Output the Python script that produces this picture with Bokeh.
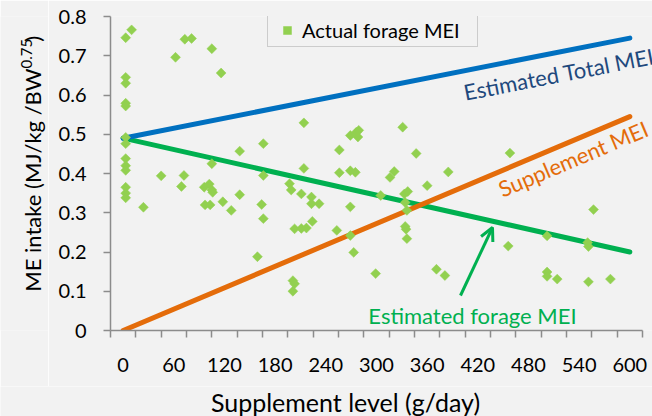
from bokeh.plotting import figure
from bokeh.layouts import row, column
from bokeh.models import (Label, Arrow, OpenHead, Legend, LegendItem,
                          FixedTicker, Range1d, ColumnDataSource)
from bokeh.core.properties import value
from bokeh.embed import file_html
from bokeh.resources import INLINE
import math

# ---------------- data ----------------
forage_x = [3, 3, 3, 3, 3, 3, 3, 3, 3, 3, 3, 3, 3,
            10, 24, 45, 62, 69, 72, 73, 81,
            96, 97, 102, 103, 105, 106, 105, 105,
            116, 118, 128, 138, 138,
            159, 164, 166, 166, 166,
            197, 199, 201, 203, 201, 203,
            211, 211, 214, 214, 217,
            223, 223, 224, 232,
            253, 256, 256,
            269, 276, 279, 278, 269, 275, 269, 269, 273,
            299, 305, 316, 321, 331,
            333, 337, 334, 336, 334, 335, 336,
            347, 360, 371, 381, 385,
            456, 458,
            502, 502, 502, 514,
            550, 551, 551, 557, 577]
forage_y = [0.746, 0.645, 0.63, 0.579, 0.572, 0.492, 0.476, 0.438, 0.42, 0.408, 0.365, 0.35, 0.338,
            0.766, 0.314, 0.394, 0.696, 0.367, 0.395, 0.742, 0.744,
            0.365, 0.32, 0.373, 0.32, 0.358, 0.352, 0.425, 0.718,
            0.656, 0.328, 0.306, 0.457, 0.346,
            0.188, 0.321, 0.476, 0.395, 0.285,
            0.374, 0.358, 0.127, 0.119, 0.1, 0.259,
            0.26, 0.348, 0.529, 0.413, 0.261,
            0.34, 0.323, 0.278, 0.323,
            0.255, 0.46, 0.402,
            0.497, 0.505, 0.51, 0.493, 0.407, 0.403, 0.315, 0.242, 0.199,
            0.145, 0.344, 0.39, 0.405, 0.518,
            0.348, 0.354, 0.326, 0.306, 0.265, 0.258, 0.234,
            0.451, 0.369, 0.156, 0.14, 0.404,
            0.215, 0.452,
            0.241, 0.149, 0.138, 0.131,
            0.224, 0.214, 0.124, 0.308, 0.131]

line_x = [0, 600]
total_mei = [0.49, 0.745]
estimated_forage_mei = [0.49, 0.20]
supplement_mei = [0.0, 0.545]

x_tick_values = [0, 60, 120, 180, 240, 300, 360, 420, 480, 540, 600]
x_minor_ticks = [-15, 15, 45, 75, 105, 135, 165, 195, 225, 255, 285, 315, 345,
                 375, 405, 435, 465, 495, 525, 555, 585, 615]
y_tick_values = [0, 0.1, 0.2, 0.3, 0.4, 0.5, 0.6, 0.7, 0.8]

x_title = "Supplement level (g/day)"
y_title_main = "ME intake (MJ/kg /BW"
y_title_sup = "0.75"
y_title_end = ")"

# ---------------- styling / layout ----------------
BG = "#F2F2F2"
FONT = "Lato"
AXIS_COL = "#8C8C8C"
BLUE = "#0070C0"
GREEN = "#00B050"
ORANGE = "#E46C0A"
POINT = "#92D050"

PAGE_W, PAGE_H = 652, 416
YT_W = 48            # width of the strip holding the y title
XT_H = 30            # height of the strip holding the x title
MAIN_W = PAGE_W - YT_W
MAIN_H = PAGE_H - XT_H

X0, X1 = -15, 615                    # extent of the drawn x axis
Y0, Y1 = 0, 0.8
FL, FR, FT, FB = 110, 642, 16, 330   # axis extent in page pixels
PX_PER_X = (FR - FL) / (X1 - X0)
X1_VIEW = X1 + (PAGE_W - FR) / PX_PER_X   # frame runs to the page edge


def xd(px):
    return X0 + (px - FL) / PX_PER_X


def yd(py):
    return Y0 + (FB - py) * (Y1 - Y0) / (FB - FT)


def strip(w, h):
    f = figure(width=w, height=h, output_backend="svg", toolbar_location=None,
               x_range=Range1d(0, w), y_range=Range1d(0, h),
               x_axis_type=None, y_axis_type=None,
               min_border=0, min_border_left=0, min_border_right=0,
               min_border_top=0, min_border_bottom=0)
    f.background_fill_color = BG
    f.border_fill_color = BG
    f.outline_line_color = None
    f.xgrid.visible = False
    f.ygrid.visible = False
    return f


p = figure(width=MAIN_W, height=MAIN_H, output_backend="svg", toolbar_location=None,
           x_range=Range1d(X0, X1_VIEW), y_range=Range1d(Y0, Y1),
           min_border_left=FL - YT_W, min_border_right=0,
           min_border_top=FT, min_border_bottom=MAIN_H - FB)
p.background_fill_color = BG
p.border_fill_color = BG
p.outline_line_color = None
p.xgrid.visible = False
p.ygrid.visible = False

# axes
p.xaxis.bounds = (X0, X1)
p.xaxis.ticker = FixedTicker(ticks=x_tick_values, minor_ticks=x_minor_ticks)
p.xaxis.major_tick_line_color = None
p.xaxis.major_tick_out = 7
p.xaxis.major_tick_in = 0
p.xaxis.minor_tick_line_color = AXIS_COL
p.xaxis.minor_tick_line_width = 1.5
p.xaxis.minor_tick_out = 7
p.xaxis.minor_tick_in = 0
p.xaxis.major_label_standoff = 20

p.yaxis.ticker = FixedTicker(ticks=y_tick_values, minor_ticks=[])
p.yaxis.major_label_overrides = {0: "0"}
p.yaxis.major_tick_out = 7
p.yaxis.major_tick_in = 0
p.yaxis.major_tick_line_color = AXIS_COL
p.yaxis.major_tick_line_width = 1.5
p.yaxis.minor_tick_line_color = None
p.yaxis.major_label_standoff = 17

for ax in (p.xaxis, p.yaxis):
    ax.axis_line_color = AXIS_COL
    ax.axis_line_width = 1.5
    ax.major_label_text_font = FONT
    ax.major_label_text_font_size = "20px"
    ax.major_label_text_color = "#000000"

# lines
p.line(line_x, estimated_forage_mei, line_color=GREEN, line_width=5, line_cap="round")
p.line(line_x, supplement_mei, line_color=ORANGE, line_width=5, line_cap="round")
p.line(line_x, total_mei, line_color=BLUE, line_width=5, line_cap="round")

# points
src = ColumnDataSource(dict(x=forage_x, y=forage_y))
pts = p.scatter("x", "y", source=src, marker="square", size=7, angle=math.pi / 4,
                fill_color=POINT, line_color=POINT, line_width=0.5)

# legend
legend = Legend(items=[LegendItem(label="Actual forage MEI", renderers=[pts])],
                location=(267 - FL, FB - 47), orientation="vertical",
                border_line_color="#A6A6A6", border_line_width=1.5,
                background_fill_color=BG, background_fill_alpha=1,
                label_text_font=FONT, label_text_font_size="20px",
                label_text_color="#000000",
                padding=4, margin=0, spacing=0,
                glyph_width=30, glyph_height=20, label_standoff=0, label_width=171)
p.add_layout(legend)

# line labels (anchored at the middle of the capitals)
p.add_layout(Label(x=xd(463.5), y=yd(92), text="Estimated Total MEI",
                   angle=11, angle_units="deg", text_align="left",
                   text_baseline="middle", text_font=FONT,
                   text_font_size="22px", text_color="#1F497D"))
p.add_layout(Label(x=xd(499), y=yd(189.5), text="Supplement MEI",
                   angle=23, angle_units="deg", text_align="left",
                   text_baseline="middle", text_font=FONT,
                   text_font_size="22px", text_color=ORANGE))
p.add_layout(Label(x=xd(472), y=yd(314.5), text="Estimated forage MEI",
                   text_align="center", text_baseline="middle",
                   text_font=FONT, text_font_size="22px", text_color=GREEN))

# arrow
p.add_layout(Arrow(end=OpenHead(size=13, line_color=GREEN, line_width=3),
                   x_start=xd(460), y_start=yd(295), x_end=xd(492), y_end=yd(227),
                   line_color=GREEN, line_width=3))

# ---- y title strip (left) ----
yt = strip(YT_W, MAIN_H)
yt.text(x=[32], y=[MAIN_H - 64], text=[y_title_main], angle=90, angle_units="deg",
        text_align="right", text_baseline="middle", text_font=value(FONT),
        text_font_size="22px", text_color="#000000")
yt.text(x=[26], y=[MAIN_H - 64], text=[y_title_sup], angle=90, angle_units="deg",
        text_align="left", text_baseline="middle", text_font=value(FONT),
        text_font_size="15px", text_color="#000000")
yt.text(x=[32], y=[MAIN_H - 31], text=[y_title_end], angle=90, angle_units="deg",
        text_align="left", text_baseline="middle", text_font=value(FONT),
        text_font_size="22px", text_color="#000000")

# ---- x title strip (bottom) ----
xt = strip(PAGE_W, XT_H)
xt.text(x=[345], y=[15], text=[x_title], text_align="center",
        text_baseline="middle", text_font=value(FONT),
        text_font_size="25px", text_color="#000000")

layout = column(row(yt, p, spacing=0), xt, spacing=0)

open("out.html", "w").write(file_html(layout, INLINE))
